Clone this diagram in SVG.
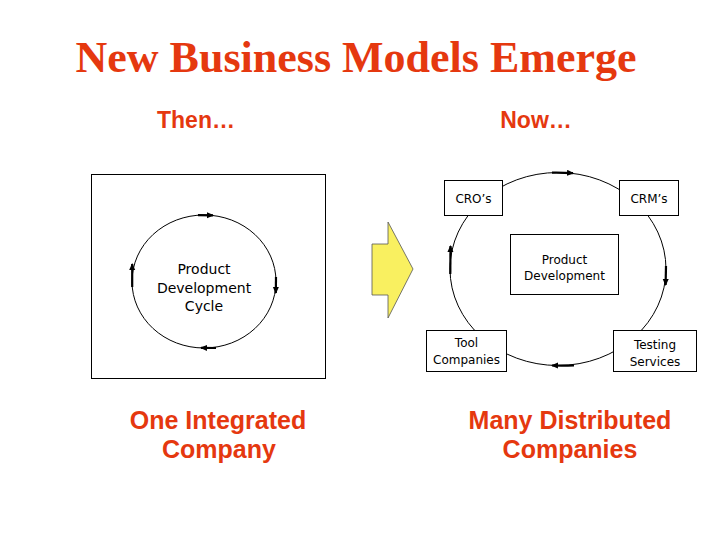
<svg xmlns="http://www.w3.org/2000/svg" width="720" height="540" viewBox="0 0 720 540">
<defs>
<marker id="ah" markerUnits="userSpaceOnUse" markerWidth="8" markerHeight="8" refX="6" refY="3" orient="auto">
<path d="M0,0 L7,3 L0,6 Z" fill="#000"/>
</marker>
<style>
.title{font-family:"Liberation Serif","Times New Roman",serif;font-weight:bold;font-size:44px;fill:#E5380F}
.head{font-family:"Liberation Sans",Arial,sans-serif;font-weight:bold;font-size:23px;fill:#E5380F}
.cap{font-family:"Liberation Sans",Arial,sans-serif;font-weight:bold;font-size:25px;fill:#E5380F}
.lbl{font-family:"DejaVu Sans",Verdana,sans-serif;font-size:12px;fill:#000}
.big{font-family:"DejaVu Sans",Verdana,sans-serif;font-size:14px;fill:#000}
.box{fill:#fff;stroke:#000;stroke-width:1}
.ring{fill:none;stroke:#000;stroke-width:1}
.arr{fill:none;stroke:#000;stroke-width:2.2;marker-end:url(#ah)}
</style>
</defs>
<rect width="720" height="540" fill="#fff"/>
<text class="title" x="356" y="72" text-anchor="middle">New Business Models Emerge</text>
<text class="head" x="196" y="128" text-anchor="middle">Then…</text>
<text class="head" x="536" y="128" text-anchor="middle">Now…</text>

<g id="then-frame">
<rect x="91.5" y="174.5" width="234" height="204" fill="#fff" stroke="#000" stroke-width="1"/>
</g>

<g id="connectors">
<ellipse class="ring" cx="204" cy="281.5" rx="72" ry="66.5"/>
<path class="arr" d="M198,215.2 L213,215.3"/>
<path class="arr" d="M276,277 L275.8,293"/>
<path class="arr" d="M216,348 L201,347.8"/>
<path class="arr" d="M132.2,287 L132.2,264"/>
<ellipse class="ring" cx="558" cy="269" rx="108" ry="96.5"/>
<path class="arr" d="M552,172.6 Q562,172.4 573,173.2"/>
<path class="arr" d="M666,266 L665.6,285"/>
<path class="arr" d="M574,365.4 Q564,365.7 552,365.5"/>
<path class="arr" d="M450.3,274 L450.5,246"/>
</g>

<g id="product-development-cycle">
<text class="big" x="204" y="274" text-anchor="middle">Product</text>
<text class="big" x="204" y="292.5" text-anchor="middle">Development</text>
<text class="big" x="204" y="311" text-anchor="middle">Cycle</text>
</g>

<g id="shift-arrow">
<polygon points="388,222 413,269 388,318 388,295 372,295 372,244 388,244" fill="#F9F060" stroke="#555" stroke-width="0.8"/>
</g>

<g id="cros">
<rect class="box" x="444.5" y="180.5" width="58" height="35"/>
<text class="lbl" x="473.5" y="203" text-anchor="middle">CRO’s</text>
</g>
<g id="crms">
<rect class="box" x="619.5" y="180.5" width="59" height="35"/>
<text class="lbl" x="649" y="203" text-anchor="middle">CRM’s</text>
</g>
<g id="product-development">
<rect class="box" x="510.5" y="234.5" width="108" height="60"/>
<text class="lbl" x="564.5" y="264" text-anchor="middle">Product</text>
<text class="lbl" x="564.5" y="280" text-anchor="middle">Development</text>
</g>
<g id="tool-companies">
<rect class="box" x="426.5" y="330.5" width="80" height="41"/>
<text class="lbl" x="466.5" y="347" text-anchor="middle">Tool</text>
<text class="lbl" x="466.5" y="364" text-anchor="middle">Companies</text>
</g>
<g id="testing-services">
<rect class="box" x="613.5" y="330.5" width="83" height="41"/>
<text class="lbl" x="655" y="349" text-anchor="middle">Testing</text>
<text class="lbl" x="655" y="366" text-anchor="middle">Services</text>
</g>

<text class="cap" x="218" y="429" text-anchor="middle">One Integrated</text>
<text class="cap" x="219" y="458" text-anchor="middle">Company</text>
<text class="cap" x="570" y="429" text-anchor="middle">Many Distributed</text>
<text class="cap" x="570" y="458" text-anchor="middle">Companies</text>
</svg>
